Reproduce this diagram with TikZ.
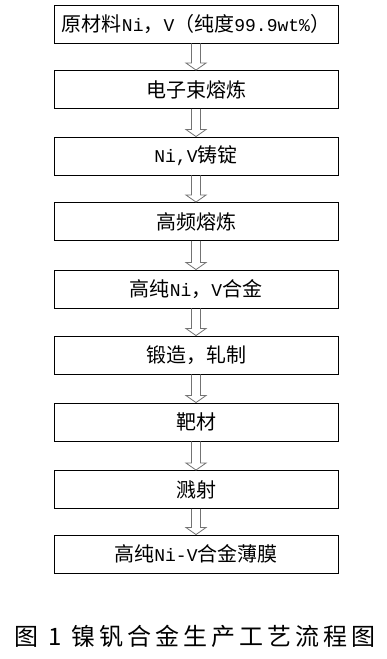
\documentclass[tikz,border=0pt]{standalone}
\usepackage{fontspec}
\setmainfont{Noto Sans CJK SC}
\newfontfamily\capfont[LetterSpace=16.7]{Noto Sans CJK SC}
\newfontfamily\latfont[Scale=0.9]{Liberation Mono}
\newcommand\lat[1]{{\latfont #1}}
\usetikzlibrary{calc}
\tikzset{
  stepbox/.style={draw=black, line width=0.9pt, minimum width=284pt, minimum height=38pt, inner sep=0pt, font=\fontsize{20}{20}\selectfont},
  harrow/.style={draw=black!55, line width=0.8pt, line join=miter},
}
\newcommand\hollowarrow[2]{%
  \draw[harrow] ($(#1.south)+(-4.5,0)$) -- ($(#2.north)+(-4.5,-7)$) -- ($(#2.north)+(-10,-7)$) -- (#2.north) -- ($(#2.north)+(10,-7)$) -- ($(#2.north)+(4.5,-7)$) -- ($(#1.south)+(4.5,0)$);}
\begin{document}
\begin{tikzpicture}[x=1pt,y=-1pt]
\useasboundingbox (0,0) rectangle (387,659);
\node[stepbox] (b1) at (196,24) {原材料\lat{Ni}，\lat{V}（纯度\lat{99.9wt\%}）};
\node[stepbox] (b2) at (196,89.5) {电子束熔炼};
\node[stepbox] (b3) at (196,156) {\lat{Ni,V}铸锭};
\node[stepbox] (b4) at (196,221.5) {高频熔炼};
\node[stepbox] (b5) at (196,289) {高纯\lat{Ni}，\lat{V}合金};
\node[stepbox] (b6) at (196,355) {锻造，轧制};
\node[stepbox] (b7) at (196,422) {靶材};
\node[stepbox] (b8) at (196,489.5) {溅射};
\node[stepbox] (b9) at (196,554) {高纯\lat{Ni-V}合金薄膜};
\hollowarrow{b1}{b2}
\hollowarrow{b2}{b3}
\hollowarrow{b3}{b4}
\hollowarrow{b4}{b5}
\hollowarrow{b5}{b6}
\hollowarrow{b6}{b7}
\hollowarrow{b7}{b8}
\hollowarrow{b8}{b9}
\node[font=\capfont\fontsize{24}{24}\selectfont, inner sep=0pt] (cap) at (195,636) {图 1 镍钒合金生产工艺流程图};
\end{tikzpicture}
\end{document}
